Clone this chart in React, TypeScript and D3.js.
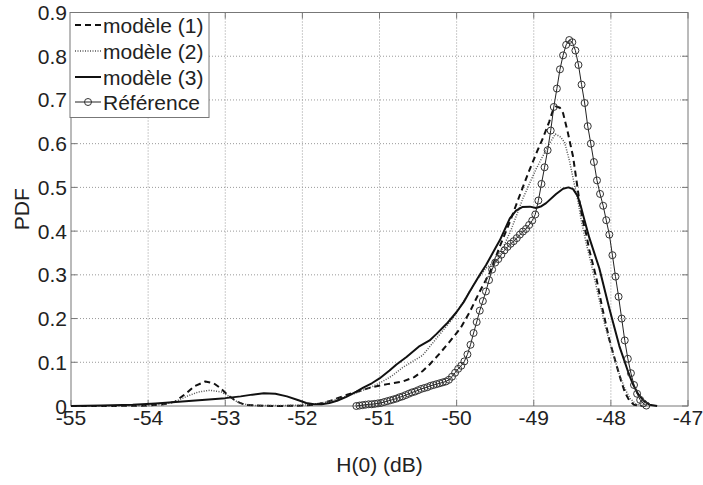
import React from "react";
import * as d3 from "d3";

// Reference (markers)
const refX = [
  -51.30, -51.26, -51.22, -51.18, -51.14, -51.10, -51.06, -51.02, -50.98, -50.94,
  -50.90, -50.86, -50.82, -50.78, -50.74, -50.70, -50.66, -50.62, -50.58, -50.54,
  -50.50, -50.46, -50.42, -50.38, -50.34, -50.30, -50.26, -50.22, -50.18, -50.14,
  -50.10, -50.06, -50.02, -49.98, -49.94, -49.90, -49.86, -49.82, -49.78, -49.74,
  -49.70, -49.66, -49.62, -49.58, -49.54, -49.50, -49.46, -49.42, -49.38, -49.34,
  -49.30, -49.26, -49.22, -49.18, -49.14, -49.10, -49.06, -49.02, -48.98, -48.94,
  -48.90, -48.86, -48.82, -48.78, -48.74, -48.70, -48.66, -48.62, -48.58, -48.54,
  -48.50, -48.46, -48.42, -48.38, -48.34, -48.30, -48.26, -48.22, -48.18, -48.14,
  -48.10, -48.06, -48.02, -47.98, -47.94, -47.90, -47.86, -47.82, -47.78, -47.74,
  -47.70, -47.66, -47.62, -47.58, -47.54,
];
const refY = [
  0.000, 0.001, 0.002, 0.003, 0.004, 0.004, 0.005, 0.006, 0.007, 0.009,
  0.011, 0.013, 0.015, 0.017, 0.020, 0.022, 0.025, 0.028, 0.031, 0.033,
  0.036, 0.039, 0.041, 0.043, 0.046, 0.048, 0.050, 0.052, 0.054, 0.056,
  0.060, 0.067, 0.076, 0.085, 0.092, 0.102, 0.118, 0.140, 0.167, 0.192,
  0.218, 0.240, 0.262, 0.288, 0.312, 0.328, 0.336, 0.346, 0.356, 0.364,
  0.371, 0.377, 0.384, 0.392, 0.399, 0.405, 0.414, 0.424, 0.438, 0.470,
  0.508, 0.546, 0.585, 0.630, 0.684, 0.726, 0.770, 0.802, 0.826, 0.837,
  0.832, 0.813, 0.780, 0.735, 0.693, 0.640, 0.600, 0.558, 0.516, 0.485,
  0.458, 0.425, 0.392, 0.345, 0.296, 0.250, 0.200, 0.150, 0.108, 0.075,
  0.048, 0.028, 0.014, 0.006, 0.001,
];

// modèle (1) - dashed
const m1X = [
  -55, -54.5, -54.0, -53.8, -53.65, -53.5, -53.4, -53.26, -53.15, -53.07,
  -52.96, -52.85, -52.75, -52.6, -52.3, -52.0, -51.85, -51.73, -51.6, -51.43,
  -51.25, -51.1, -50.9, -50.7, -50.55, -50.44, -50.35, -50.22, -50.1, -49.95,
  -49.83, -49.7, -49.57, -49.44, -49.31, -49.19, -49.06, -48.95, -48.88, -48.8,
  -48.75, -48.71, -48.66, -48.62, -48.56, -48.49, -48.45, -48.41, -48.37, -48.32,
  -48.28, -48.19, -48.11, -48.02, -47.93, -47.87, -47.82, -47.76, -47.7, -47.6,
];
const m1Y = [
  0, 0, 0.001, 0.004, 0.010, 0.030, 0.045, 0.056, 0.052, 0.042,
  0.024, 0.010, 0.003, 0.001, 0, 0.001, 0.003, 0.007, 0.014, 0.025,
  0.035, 0.043, 0.050, 0.056, 0.066, 0.080, 0.095, 0.120, 0.145, 0.178,
  0.215, 0.262, 0.305, 0.365, 0.421, 0.478, 0.538, 0.585, 0.613, 0.650,
  0.677, 0.685, 0.682, 0.670, 0.627, 0.570, 0.521, 0.471, 0.429, 0.393,
  0.357, 0.294, 0.223, 0.152, 0.095, 0.059, 0.032, 0.012, 0.003, 0,
];

// modèle (2) - dotted
const m2X = [
  -55, -54.5, -54.0, -53.8, -53.65, -53.5, -53.35, -53.2, -53.05, -52.95,
  -52.85, -52.75, -52.6, -52.3, -52.0, -51.85, -51.7, -51.5, -51.3, -51.1,
  -50.96, -50.83, -50.7, -50.57, -50.44, -50.26, -50.05, -49.88, -49.75, -49.62,
  -49.47, -49.3, -49.14, -48.97, -48.8, -48.72, -48.65, -48.6, -48.54, -48.49,
  -48.43, -48.38, -48.32, -48.26, -48.17, -48.08, -47.98, -47.89, -47.82, -47.75,
  -47.68, -47.6,
];
const m2Y = [
  0, 0, 0.001, 0.004, 0.010, 0.022, 0.032, 0.036, 0.032, 0.022,
  0.010, 0.004, 0.001, 0.001, 0.002, 0.004, 0.009, 0.018, 0.030, 0.044,
  0.056, 0.070, 0.088, 0.102, 0.116, 0.155, 0.200, 0.248, 0.285, 0.315,
  0.335, 0.400, 0.475, 0.542, 0.599, 0.622, 0.615, 0.603, 0.563, 0.521,
  0.471, 0.421, 0.372, 0.329, 0.258, 0.187, 0.123, 0.073, 0.040, 0.017,
  0.005, 0,
];

// modèle (3) - solid
const m3X = [
  -55, -54.6, -54.2, -53.9, -53.6, -53.3, -53.0, -52.8, -52.65, -52.5,
  -52.35, -52.2, -52.05, -51.95, -51.85, -51.75, -51.65, -51.55, -51.43, -51.3,
  -51.21, -51.1, -51.0, -50.87, -50.78, -50.65, -50.48, -50.35, -50.26, -50.13,
  -50.0, -49.9, -49.83, -49.7, -49.62, -49.5, -49.44, -49.31, -49.23, -49.15,
  -49.05, -48.97, -48.9, -48.84, -48.71, -48.62, -48.55, -48.49, -48.43, -48.39,
  -48.35, -48.28, -48.15, -48.02, -47.89, -47.78, -47.72, -47.65, -47.57, -47.5,
  -47.4,
];
const m3Y = [
  0, 0.001, 0.003, 0.006, 0.010, 0.014, 0.018, 0.022, 0.026, 0.029,
  0.028, 0.022, 0.013, 0.007, 0.004, 0.004, 0.007, 0.012, 0.021, 0.033,
  0.042, 0.052, 0.063, 0.081, 0.095, 0.112, 0.137, 0.150, 0.165, 0.188,
  0.215, 0.240, 0.262, 0.300, 0.322, 0.360, 0.379, 0.429, 0.447, 0.455,
  0.456, 0.453, 0.457, 0.464, 0.485, 0.497, 0.500, 0.496, 0.480, 0.457,
  0.430, 0.385, 0.315, 0.223, 0.137, 0.080, 0.052, 0.028, 0.011, 0.003,
  0,
];

const xTicks = [-55, -54, -53, -52, -51, -50, -49, -48, -47];
const yTicks = [0, 0.1, 0.2, 0.3, 0.4, 0.5, 0.6, 0.7, 0.8, 0.9];
const yTickLabels = ["0", "0.1", "0.2", "0.3", "0.4", "0.5", "0.6", "0.7", "0.8", "0.9"];
const legendLabels = ["modèle (1)", "modèle (2)", "modèle (3)", "Référence"];

const W = 703;
const H = 485;
const L = 71, R = 688, T = 12.5, B = 406;
const FONT = "'Liberation Sans', Arial, sans-serif";
const FS = 21;

export default function App() {
  const x = d3.scaleLinear().domain([-55, -47]).range([L, R]);
  const y = d3.scaleLinear().domain([0, 0.9]).range([B, T]);
  const line = (xs: number[], ys: number[]) =>
    d3.line<number>().x((_, i) => x(xs[i])).y((d) => y(d))(ys) || "";

  const styles = [
    { stroke: "#111", strokeWidth: 2, dash: "6,4" },
    { stroke: "#555", strokeWidth: 1.5, dash: "1,1.5" },
    { stroke: "#111", strokeWidth: 2, dash: undefined },
    { stroke: "#222", strokeWidth: 1, dash: undefined },
  ];

  const legX = L - 1, legY = T, legW = 139, legH = 105;
  const rowY = [25, 51, 77, 102];

  return (
    <svg width={W} height={H} style={{ position: "absolute", left: 0, top: 0, background: "#fff" }}>
      <rect x={0} y={0} width={W} height={H} fill="#fff" />
      {/* grid */}
      <g stroke="#999" strokeWidth={1} strokeDasharray="1,2">
        {xTicks.slice(1, -1).map((t) => (
          <line key={"gx" + t} x1={x(t)} x2={x(t)} y1={T} y2={B} />
        ))}
        {yTicks.slice(1, -1).map((t) => (
          <line key={"gy" + t} x1={L} x2={R} y1={y(t)} y2={y(t)} />
        ))}
      </g>
      {/* axes box */}
      <rect x={L} y={T} width={R - L} height={B - T} fill="none" stroke="#777" strokeWidth={1} />
      {/* tick marks */}
      <g stroke="#777" strokeWidth={1}>
        {xTicks.map((t) => (
          <g key={"tx" + t}>
            <line x1={x(t)} x2={x(t)} y1={B} y2={B - 6} />
            <line x1={x(t)} x2={x(t)} y1={T} y2={T + 6} />
          </g>
        ))}
        {yTicks.map((t) => (
          <g key={"ty" + t}>
            <line x1={L} x2={L + 6} y1={y(t)} y2={y(t)} />
            <line x1={R} x2={R - 6} y1={y(t)} y2={y(t)} />
          </g>
        ))}
      </g>
      {/* curves */}
      <g fill="none" strokeLinejoin="round">
        <path d={line(m1X, m1Y)} stroke={styles[0].stroke} strokeWidth={styles[0].strokeWidth} strokeDasharray={styles[0].dash} />
        <path d={line(m2X, m2Y)} stroke={styles[1].stroke} strokeWidth={styles[1].strokeWidth} strokeDasharray={styles[1].dash} />
        <path d={line(m3X, m3Y)} stroke={styles[2].stroke} strokeWidth={styles[2].strokeWidth} />
        <path d={line(refX, refY)} stroke={styles[3].stroke} strokeWidth={styles[3].strokeWidth} />
        {refX.map((v, i) => (
          <circle key={"c" + i} cx={x(v)} cy={y(refY[i])} r={3.5} stroke="#333" strokeWidth={1} fill="none" />
        ))}
      </g>
      {/* tick labels */}
      <g fontFamily={FONT} fontSize={FS} fill="#222">
        {xTicks.map((t) => (
          <text key={"lx" + t} x={x(t)} y={425} textAnchor="middle">{String(t)}</text>
        ))}
        {yTicks.map((t, i) => (
          <text key={"ly" + t} x={67} y={y(t)} textAnchor="end" dominantBaseline="central">{yTickLabels[i]}</text>
        ))}
        <text x={(L + R) / 2} y={472} textAnchor="middle">H(0) (dB)</text>
        <text transform={`translate(29,${(T + B) / 2}) rotate(-90)`} textAnchor="middle">PDF</text>
      </g>
      {/* legend */}
      <g>
        <rect x={legX} y={legY} width={legW} height={legH} fill="#fff" stroke="#777" strokeWidth={1} />
        {legendLabels.map((lab, i) => (
          <g key={"leg" + i}>
            <line x1={75} x2={101} y1={rowY[i]} y2={rowY[i]} stroke={styles[i].stroke}
              strokeWidth={styles[i].strokeWidth} strokeDasharray={styles[i].dash} />
            {i === 3 && <circle cx={88} cy={rowY[i]} r={3.5} fill="none" stroke="#333" strokeWidth={1} />}
            <text x={103} y={rowY[i]} dominantBaseline="central" fontFamily={FONT} fontSize={FS} fill="#222">{lab}</text>
          </g>
        ))}
      </g>
    </svg>
  );
}
